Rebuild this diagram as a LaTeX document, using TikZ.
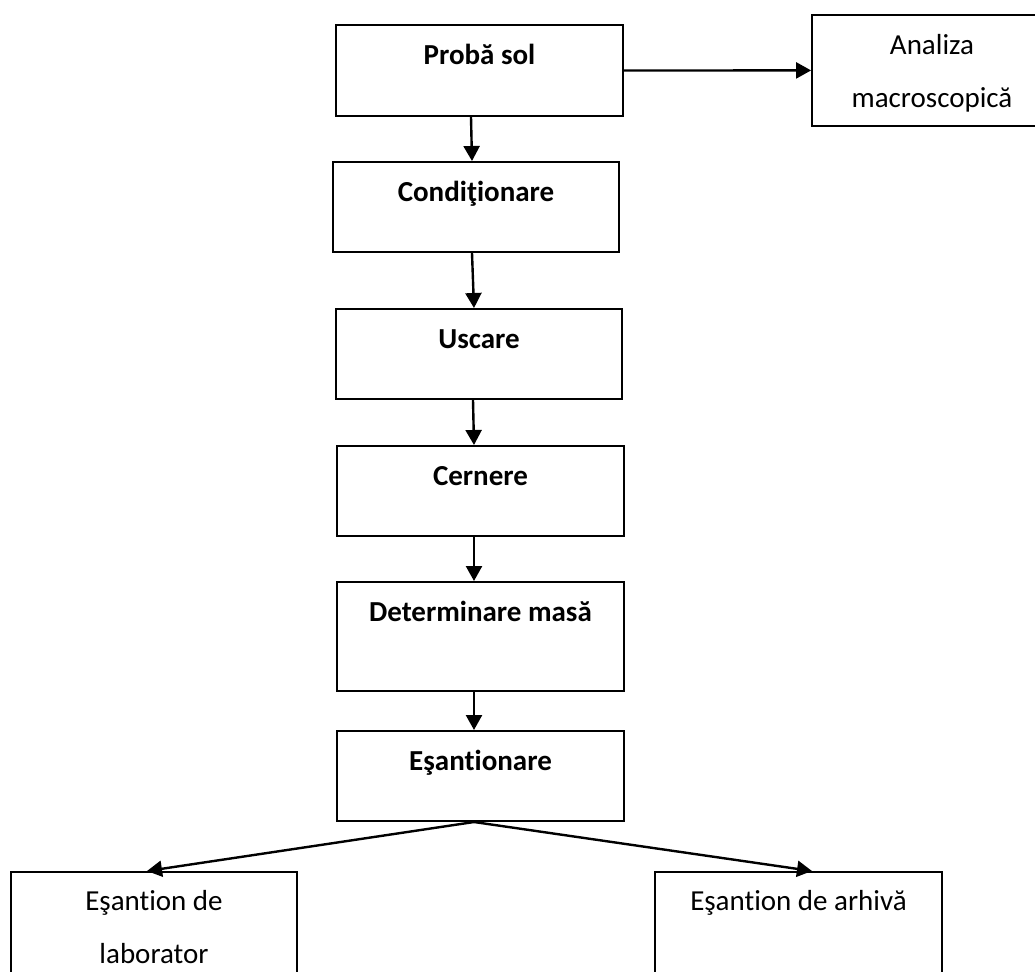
\documentclass[tikz,border=0pt]{standalone}
\usepackage{fontspec}
\setmainfont{Carlito}[Ligatures=NoCommon]
\usetikzlibrary{arrows.meta}

\begin{document}
\begin{tikzpicture}[x=0.5pt,y=-0.5pt,
  stage/.style={draw,line width=1pt,inner sep=0pt,anchor=north,align=center,
    font=\fontsize{14.5}{26.5}\selectfont,text height=19.5pt,text depth=25.5pt,
    minimum width=143.5pt},
  flow/.style={-{Triangle[length=7.5pt,width=8pt]},line width=1.2pt}]
  \useasboundingbox (0,0) rectangle (1035,971);
  \node[stage,text depth=26pt] (proba) at (479.5,24) {\textbf{Probă sol}};
  \node[stage,minimum width=143pt] (cond) at (476,161) {\textbf{Condiţionare}};
  \node[stage,minimum width=143pt] (uscare) at (479,308) {\textbf{Uscare}};
  \node[stage] (cernere) at (480.5,445) {\textbf{Cernere}};
  \node[stage,text depth=35pt] (masa) at (480.5,581) {\textbf{Determinare masă}};
  \node[stage] (esant) at (480.5,730) {\textbf{Eşantionare}};
  \node[stage,line width=0.9pt,minimum width=120pt,text height=46.5pt,text depth=9pt]
    (analiza) at (932,14) {Analiza\\macroscopică};
  \node[stage,line width=0.9pt,minimum width=143pt,text height=46pt,text depth=19pt]
    (lab) at (154,871) {Eşantion de\\laborator};
  \node[stage,line width=0.9pt,text depth=45.5pt] (arhiva) at (798.5,871) {Eşantion de arhivă};
  \draw[flow] (proba.east) -- (analiza.west);
  \draw[flow] ([xshift=-4.25pt]proba.south) -- ([xshift=-2pt]cond.north);
  \draw[flow] ([xshift=-2pt]cond.south) -- ([xshift=-2.5pt]uscare.north);
  \draw[flow] ([xshift=-3pt]uscare.south) -- ([xshift=-3.25pt]cernere.north);
  \draw[flow] ([xshift=-3.25pt]cernere.south) -- ([xshift=-3.25pt]masa.north);
  \draw[flow] ([xshift=-3.25pt]masa.south) -- ([xshift=-3.25pt]esant.north);
  \draw[flow] ([xshift=-3.25pt]esant.south) -- ([xshift=-3.5pt]lab.north);
  \draw[flow] ([xshift=-3.25pt]esant.south) -- ([xshift=6.75pt]arhiva.north);
\end{tikzpicture}
\end{document}
